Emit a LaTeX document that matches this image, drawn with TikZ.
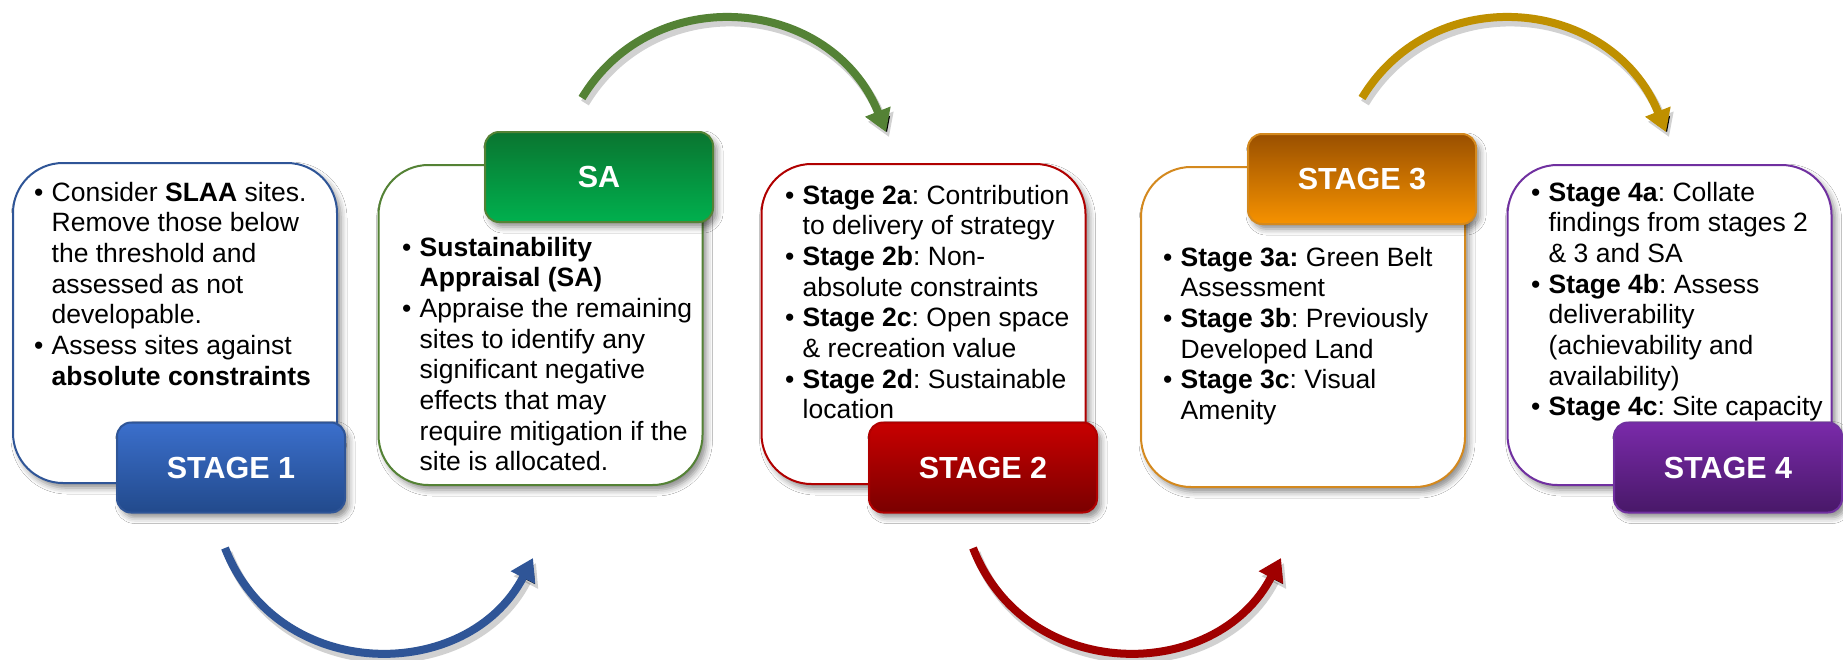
\documentclass[tikz,border=0pt]{standalone}
\usepackage{fontspec}
\setmainfont{Liberation Sans}
\usetikzlibrary{arrows.meta,shadows.blur}
\definecolor{blueL}{HTML}{3B6FCC}\definecolor{blueD}{HTML}{224A8C}\definecolor{blueB}{HTML}{2F5597}
\definecolor{grnL}{HTML}{00B04E}\definecolor{grnD}{HTML}{0A7530}\definecolor{grnB}{HTML}{548235}
\definecolor{redL}{HTML}{C80000}\definecolor{redD}{HTML}{7A0000}\definecolor{redB}{HTML}{B00000}
\definecolor{orL}{HTML}{F69200}\definecolor{orD}{HTML}{9A5000}\definecolor{orB}{HTML}{D4891E}
\definecolor{purL}{HTML}{7A2AAA}\definecolor{purD}{HTML}{481868}\definecolor{purB}{HTML}{7030A0}
\definecolor{arBlue}{HTML}{2F5597}\definecolor{arGreen}{HTML}{548235}
\definecolor{arRed}{HTML}{A00000}\definecolor{arGold}{HTML}{BF9000}
\newlength{\bw}\setlength{\bw}{17.5pt}
\newcommand\bi{\makebox[\bw][l]{\textbullet}}
\newcommand\ci{\hspace*{\bw}}
\frenchspacing
\begin{document}
\begin{tikzpicture}[x=1pt,y=-1pt,
  content/.style={draw, line width=2pt, fill=white, rounded corners=50pt,
    minimum width=324pt, minimum height=320pt, inner sep=0pt,
    blur shadow={shadow xshift=4pt, shadow yshift=-5pt, shadow blur radius=6pt, shadow opacity=45}},
  stagelabel/.style={draw, line width=2pt, rounded corners=14pt,
    minimum width=228pt, minimum height=90pt, inner sep=0pt, text=white,
    font=\fontsize{30.5}{36}\selectfont\bfseries,
    blur shadow={shadow xshift=4pt, shadow yshift=-5pt, shadow blur radius=6pt, shadow opacity=45}},
  txt/.style={inner sep=0pt, anchor=base west, font=\fontsize{26.5}{30.7}\selectfont\frenchspacing},
  arr/.style={line width=8pt, -{Triangle[length=22pt,width=26pt]},
    preaction={draw=black, draw opacity=0.18, line width=9pt, transform canvas={shift={(3pt,-5pt)}}}}
]
\fill[white] (0,0) rectangle (1843,659);
\useasboundingbox (0,0) rectangle (1843,659);

% content boxes
\node[content, draw=blueB] (b1) at (175,323) {};
\node[content, draw=grnB]  (bSA) at (540.5,325) {};
\node[content, draw=redB]  (b2) at (923.5,324) {};
\node[content, draw=orB]   (b3) at (1303,327) {};
\node[content, draw=purB]  (b4) at (1669.5,325) {};

% texts
\node[txt] (t1) at (34,201) {\begin{tabular}[t]{@{}l@{}}
\bi Consider \textbf{SLAA} sites.\\
\ci Remove those below\\
\ci the threshold and\\
\ci assessed as not\\
\ci developable.\\
\bi Assess sites against\\
\ci \textbf{absolute constraints}
\end{tabular}};

\node[txt] (tSA) at (402,256) {\begin{tabular}[t]{@{}l@{}}
\bi \textbf{Sustainability}\\
\ci \textbf{Appraisal (SA)}\\
\bi Appraise the remaining\\
\ci sites to identify any\\
\ci significant negative\\
\ci effects that may\\
\ci require mitigation if the\\
\ci site is allocated.
\end{tabular}};

\node[txt] (t2) at (785,204) {\begin{tabular}[t]{@{}l@{}}
\bi \textbf{Stage 2a}: Contribution\\
\ci to delivery of strategy\\
\bi \textbf{Stage 2b}: Non-\\
\ci absolute constraints\\
\bi \textbf{Stage 2c}: Open space\\
\ci \& recreation value\\
\bi \textbf{Stage 2d}: Sustainable\\
\ci location
\end{tabular}};

\node[txt] (t3) at (1163,266) {\begin{tabular}[t]{@{}l@{}}
\bi \textbf{Stage 3a:} Green Belt\\
\ci Assessment\\
\bi \textbf{Stage 3b}: Previously\\
\ci Developed Land\\
\bi \textbf{Stage 3c}: Visual\\
\ci Amenity
\end{tabular}};

\node[txt] (t4) at (1531,201) {\begin{tabular}[t]{@{}l@{}}
\bi \textbf{Stage 4a}: Collate\\
\ci findings from stages 2\\
\ci \& 3 and SA\\
\bi \textbf{Stage 4b}: Assess\\
\ci deliverability\\
\ci (achievability and\\
\ci availability)\\
\bi \textbf{Stage 4c}: Site capacity
\end{tabular}};

% stage labels
\node[stagelabel, draw=blueB, top color=blueL, bottom color=blueD] (l1) at (231,467.5) {STAGE 1};
\node[stagelabel, draw=grnB, top color=grnD, bottom color=grnL] (lSA) at (599,177) {SA};
\node[stagelabel, draw=redB, top color=redL, bottom color=redD] (l2) at (983,467.5) {STAGE 2};
\node[stagelabel, draw=orB, top color=orD, bottom color=orL] (l3) at (1362,179) {STAGE 3};
\node[stagelabel, draw=purB, top color=purL, bottom color=purD] (l4) at (1728,467.5) {STAGE 4};

% arrow end points
\coordinate (a1s) at (225,548);  \coordinate (a1e) at (533,558);
\coordinate (a2s) at (582,98);   \coordinate (a2e) at (886,132);
\coordinate (a3s) at (973,548);  \coordinate (a3e) at (1281,558);
\coordinate (a4s) at (1362,98);  \coordinate (a4e) at (1666,132);

\draw[arr, arBlue]  (a1s) .. controls (278,684) and (468,684) .. (a1e);
\draw[arr, arGreen] (a2s) .. controls (654,-21) and (832,-3) .. (a2e);
\draw[arr, arRed]   (a3s) .. controls (1026,684) and (1216,684) .. (a3e);
\draw[arr, arGold]  (a4s) .. controls (1434,-21) and (1612,-3) .. (a4e);
\end{tikzpicture}
\end{document}
